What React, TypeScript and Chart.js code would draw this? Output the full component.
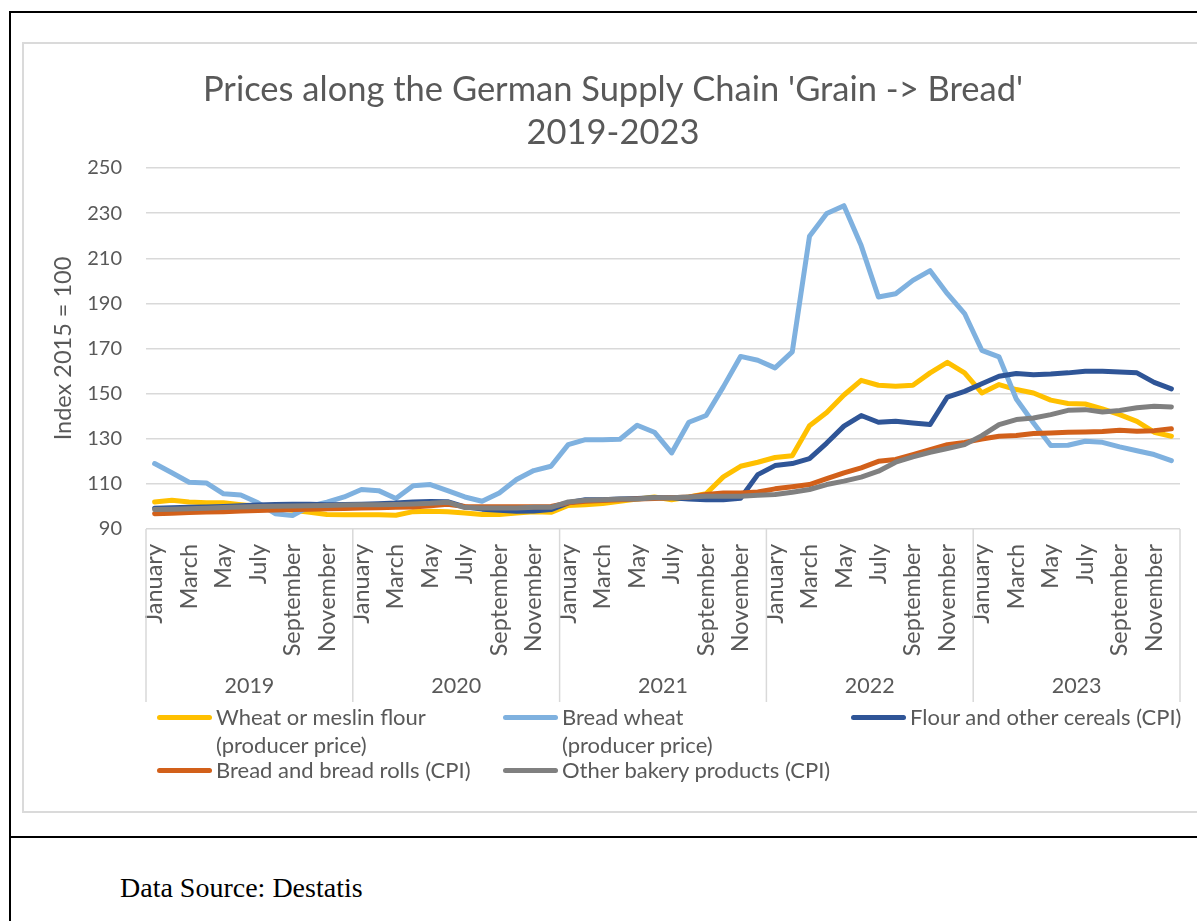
import React, { useEffect, useRef } from "react";
import { Chart, registerables } from "chart.js";

Chart.register(...registerables);

const YEARS = ["2019", "2020", "2021", "2022", "2023"];
const MONTHS = [
  "January", "February", "March", "April", "May", "June",
  "July", "August", "September", "October", "November", "December",
];
const LABELS = YEARS.flatMap(() => MONTHS);

const Y_TICKS_MIN = 90;
const Y_TICKS_MAX = 250;
const Y_STEP = 20;

const wheatFlour = [
  102.0, 102.7, 102.0, 101.6, 101.6, 100.8, 100.1, 99.3, 98.3, 97.4, 96.4, 96.3,
  96.3, 96.3, 96.1, 97.7, 97.9, 97.6, 97.1, 96.4, 96.4, 97.1, 97.6, 97.4,
  100.4, 100.8, 101.3, 102.3, 103.3, 104.2, 103.0, 104.2, 105.6, 113.1, 117.8, 119.6,
  121.7, 122.5, 135.8, 141.6, 149.4, 155.9, 153.7, 153.3, 153.7, 159.2, 163.9, 159.2,
  150.3, 154.0, 151.8, 150.3, 147.1, 145.6, 145.4, 143.2, 140.7, 137.7, 132.9, 131.1,
];
const breadWheat = [
  119.0, 114.9, 110.7, 110.4, 105.6, 105.1, 101.6, 96.8, 96.0, 100.1, 101.9, 104.2,
  107.5, 107.0, 103.5, 109.2, 109.7, 107.0, 104.2, 102.3, 106.0, 111.9, 115.9, 117.8,
  127.4, 129.6, 129.6, 129.8, 136.0, 132.9, 123.7, 137.3, 140.3, 153.0, 166.5, 164.8,
  161.4, 168.5, 219.7, 229.8, 233.3, 215.6, 192.8, 194.3, 200.2, 204.5, 194.3, 185.5,
  169.2, 166.3, 147.6, 137.0, 127.0, 127.1, 128.9, 128.4, 126.4, 124.7, 123.0, 120.3,
];
const flourCereals = [
  99.2, 99.4, 99.6, 99.8, 100.0, 100.3, 100.6, 100.9, 101.0, 101.0, 100.8, 100.9,
  101.0, 101.2, 101.5, 102.0, 102.2, 102.1, 99.8, 98.8, 98.3, 97.9, 98.0, 98.6,
  101.6, 103.0, 103.0, 103.3, 103.5, 103.8, 103.8, 103.3, 103.0, 103.0, 103.6, 114.1,
  118.1, 119.0, 121.2, 128.1, 135.6, 140.3, 137.3, 137.8, 137.0, 136.3, 148.5, 151.0,
  154.4, 157.7, 158.9, 158.4, 158.7, 159.2, 159.9, 159.9, 159.6, 159.2, 155.0, 152.1,
];
const breadRolls = [
  96.8, 97.0, 97.3, 97.5, 97.7, 98.0, 98.2, 98.4, 98.6, 98.8, 99.0, 99.1,
  99.3, 99.4, 99.6, 99.7, 100.3, 101.0, 100.0, 99.9, 99.9, 99.9, 99.9, 100.0,
  101.6, 102.3, 102.6, 103.0, 103.3, 103.5, 103.8, 104.2, 105.3, 106.0, 106.0, 106.4,
  107.8, 108.7, 109.7, 112.3, 114.9, 117.1, 120.0, 120.8, 123.0, 125.2, 127.4, 128.4,
  129.9, 131.1, 131.4, 132.3, 132.6, 132.9, 133.0, 133.2, 133.8, 133.3, 133.6, 134.4,
];
const bakery = [
  98.6, 98.8, 99.0, 99.2, 99.5, 99.8, 100.0, 100.1, 100.2, 100.3, 100.4, 100.6,
  100.7, 100.8, 100.9, 101.1, 101.4, 101.9, 99.5, 99.3, 99.3, 99.3, 99.6, 99.6,
  102.0, 102.7, 103.0, 103.3, 103.3, 103.8, 103.8, 104.2, 104.5, 104.5, 104.5, 105.0,
  105.3, 106.3, 107.5, 109.7, 111.2, 113.0, 115.6, 119.6, 122.0, 124.0, 125.7, 127.4,
  131.4, 136.3, 138.5, 139.2, 140.7, 142.6, 142.9, 141.9, 142.5, 143.7, 144.4, 144.1,
];

const SERIES_NAMES = [
  ["Wheat or meslin flour", "(producer price)"],
  ["Bread wheat", "(producer price)"],
  ["Flour and other cereals (CPI)"],
  ["Bread and bread rolls (CPI)"],
  ["Other bakery products (CPI)"],
];
const SERIES_VALUES = [wheatFlour, breadWheat, flourCereals, breadRolls, bakery];
const SERIES_COLORS = ["#FFC000", "#7FB1DF", "#2F5597", "#D2601A", "#808080"];

const TITLE_LINES = ["Prices along the German Supply Chain 'Grain -> Bread'", "2019-2023"];
const Y_TITLE = "Index 2015 = 100";
const SOURCE = "Data Source: Destatis";

const TEXT = "#595959";
const GRID = "#D9D9D9";
const FONT = "Lato";

// legend placement (page coords)
const LEGEND_POS = [
  { x: 157, y: 717 },
  { x: 503, y: 717 },
  { x: 851, y: 717 },
  { x: 157, y: 770 },
  { x: 503, y: 770 },
];

const CANVAS_LEFT = 24;
const CANVAS_TOP = 44;
const CANVAS_W = 1178;
const CANVAS_H = 767;
const X_AXIS_H = 173;

const yearBand = {
  id: "yearBand",
  afterDraw(chart: any) {
    const xs = chart.scales.x;
    const ctx = chart.ctx;
    const top = chart.chartArea.bottom;
    const bottom = top + X_AXIS_H;
    const half = (xs.getPixelForValue(1) - xs.getPixelForValue(0)) / 2;
    ctx.save();
    ctx.strokeStyle = GRID;
    ctx.lineWidth = 1.5;
    for (let k = 0; k <= YEARS.length; k++) {
      const px =
        k < YEARS.length
          ? xs.getPixelForValue(k * 12) - half
          : xs.getPixelForValue(YEARS.length * 12 - 1) + half;
      ctx.beginPath();
      ctx.moveTo(px, top);
      ctx.lineTo(px, bottom);
      ctx.stroke();
    }
    ctx.fillStyle = TEXT;
    ctx.font = `21.5px ${FONT}`;
    ctx.textAlign = "center";
    ctx.textBaseline = "middle";
    YEARS.forEach((yr, k) => {
      const cx = (xs.getPixelForValue(k * 12) + xs.getPixelForValue(k * 12 + 11)) / 2;
      ctx.fillText(yr, cx, top + 157);
    });
    ctx.restore();
  },
};

function LineChart() {
  const ref = useRef<HTMLCanvasElement | null>(null);
  useEffect(() => {
    if (!ref.current) return;
    const chart = new Chart(ref.current, {
      type: "line",
      data: {
        labels: LABELS,
        datasets: SERIES_VALUES.map((vals, i) => ({
          label: SERIES_NAMES[i].join(" "),
          data: vals,
          borderColor: SERIES_COLORS[i],
          backgroundColor: SERIES_COLORS[i],
          borderWidth: 5,
          pointRadius: 0,
          tension: 0,
          fill: false,
          borderCapStyle: "round",
          borderJoinStyle: "round",
          order: SERIES_VALUES.length - i,
        })),
      },
      options: {
        animation: false,
        responsive: true,
        maintainAspectRatio: false,
        layout: { padding: { left: 22, right: 22, top: 0, bottom: CANVAS_H - 485 - X_AXIS_H } },
        plugins: {
          legend: { display: false },
          tooltip: { enabled: false },
          title: {
            display: true,
            text: TITLE_LINES,
            color: TEXT,
            font: { family: FONT, size: 34.5, weight: "normal", lineHeight: 43 / 34.5 },
            padding: { top: 24.5, bottom: 13.5 },
          },
        },
        scales: {
          x: {
            type: "category",
            offset: true,
            grid: { display: false, drawTicks: false },
            border: { display: false },
            ticks: {
              autoSkip: false,
              maxRotation: 90,
              minRotation: 90,
              padding: 15,
              color: TEXT,
              font: { family: FONT, size: 23.5 },
              callback: function (this: any, value: any, index: number) {
                return index % 2 === 0 ? this.getLabelForValue(value) : "";
              },
            },
            afterFit: (scale: any) => {
              scale.height = X_AXIS_H;
              scale.paddingLeft = 0;
              scale.paddingRight = 0;
            },
          },
          y: {
            min: Y_TICKS_MIN,
            max: Y_TICKS_MAX,
            border: { display: false },
            grid: { color: GRID, lineWidth: 1.5, drawTicks: false },
            ticks: {
              stepSize: Y_STEP,
              padding: 24,
              color: TEXT,
              font: { family: FONT, size: 20 },
            },
            title: {
              display: true,
              text: Y_TITLE,
              color: TEXT,
              font: { family: FONT, size: 23.5, lineHeight: 1.2 },
              padding: { top: 2.9, bottom: 0 },
            },
            afterFit: (scale: any) => {
              scale.width = 100;
            },
          },
        },
      },
      plugins: [yearBand],
    } as any);
    return () => chart.destroy();
  }, []);
  return <canvas ref={ref} />;
}

export default function App() {
  return (
    <div
      style={{
        position: "fixed",
        left: 0,
        top: 0,
        width: 1197,
        height: 921,
        overflow: "hidden",
        background: "#fff",
        fontFamily: FONT,
      }}
    >
      <div
        style={{
          position: "absolute",
          left: 9,
          top: 11,
          width: 1300,
          height: 1000,
          border: "2px solid #000",
          boxSizing: "border-box",
        }}
      />
      <div style={{ position: "absolute", left: 9, top: 836, width: 1300, height: 2, background: "#000" }} />
      <div
        style={{
          position: "absolute",
          left: 22,
          top: 42,
          width: 1182,
          height: 771,
          border: "2px solid #DADADA",
          boxSizing: "border-box",
          background: "#fff",
        }}
      />
      <div
        style={{
          position: "absolute",
          left: CANVAS_LEFT,
          top: CANVAS_TOP,
          width: CANVAS_W,
          height: CANVAS_H,
        }}
      >
        <LineChart />
      </div>
      {SERIES_NAMES.map((lines, i) => (
        <div key={i}>
          <div
            style={{
              position: "absolute",
              left: LEGEND_POS[i].x,
              top: LEGEND_POS[i].y - 2.5,
              width: 55,
              height: 5,
              borderRadius: 3,
              background: SERIES_COLORS[i],
            }}
          />
          <div
            style={{
              position: "absolute",
              left: LEGEND_POS[i].x + 59,
              top: LEGEND_POS[i].y - 14,
              fontSize: 22,
              lineHeight: "28px",
              color: TEXT,
              whiteSpace: "nowrap",
            }}
          >
            {lines.map((l, j) => (
              <div key={j}>{l}</div>
            ))}
          </div>
        </div>
      ))}
      <div
        style={{
          position: "absolute",
          left: 120,
          top: 888 - 17,
          fontFamily: "'Liberation Serif', serif",
          fontSize: 28,
          lineHeight: "34px",
          color: "#000",
          whiteSpace: "nowrap",
        }}
      >
        {SOURCE}
      </div>
    </div>
  );
}
